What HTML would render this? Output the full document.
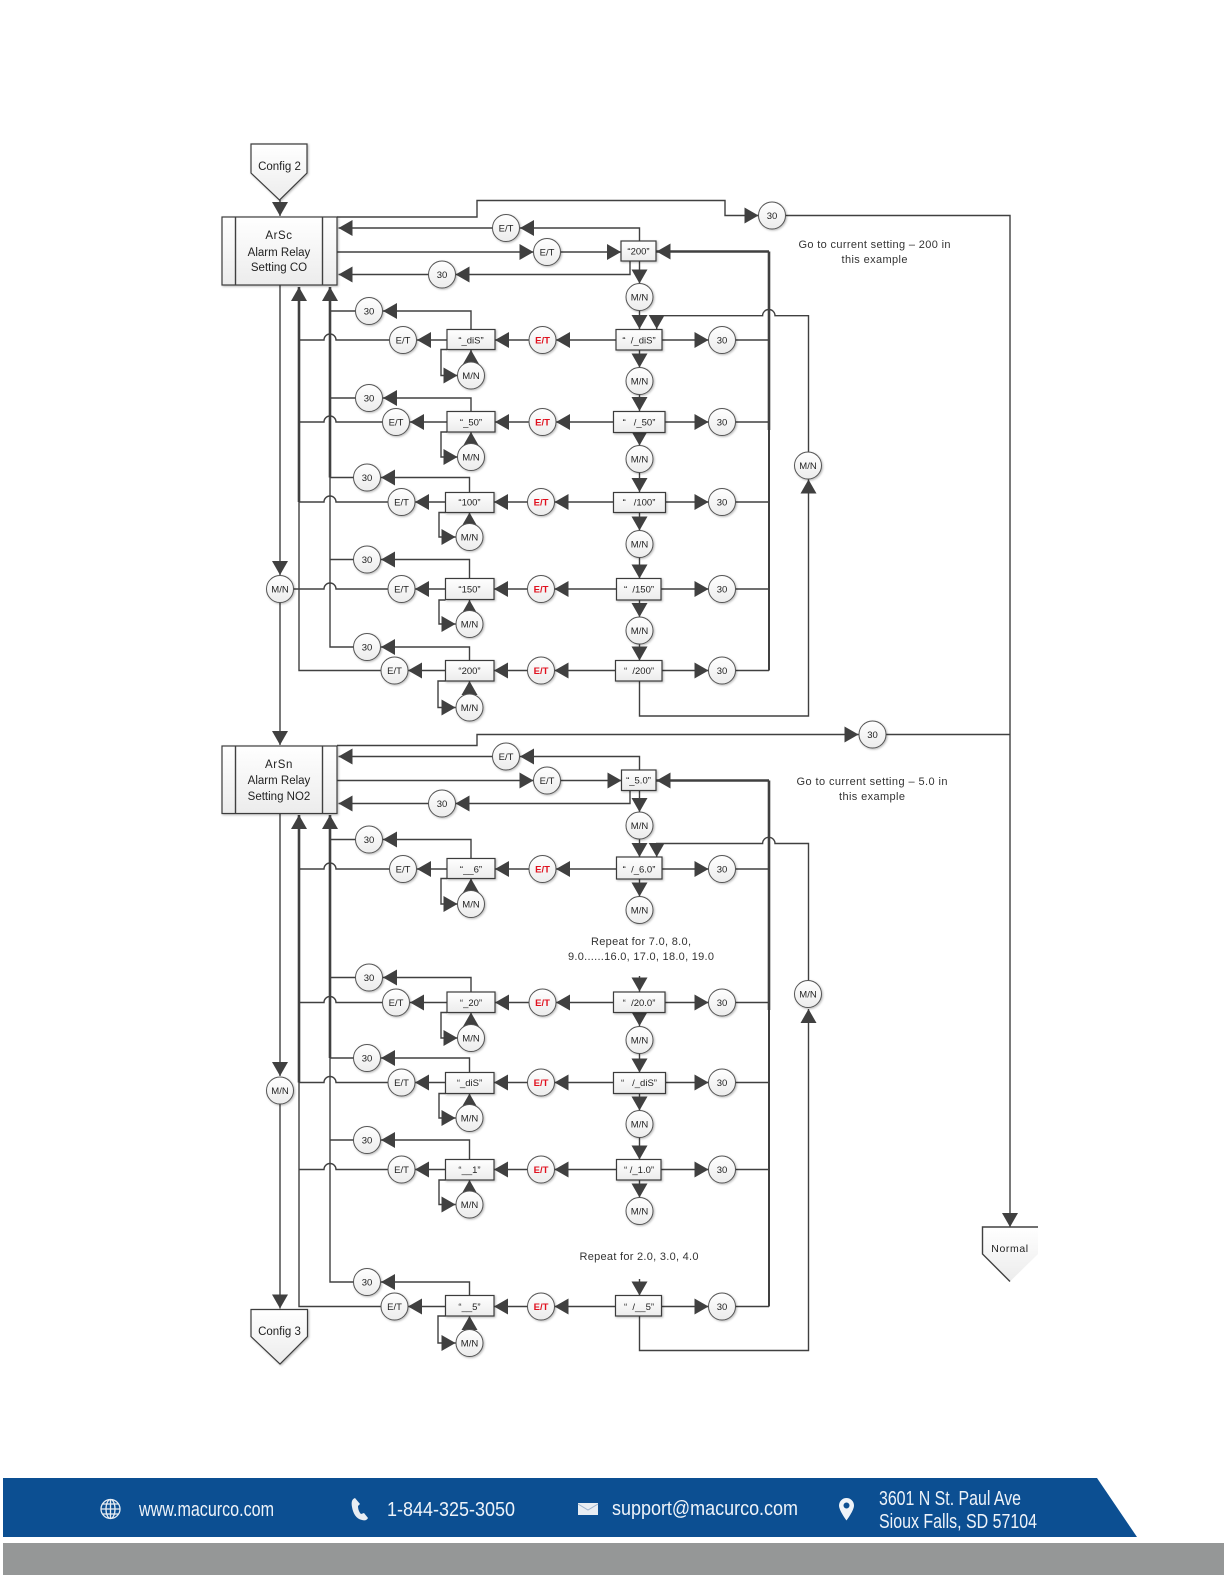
<!DOCTYPE html>
<html><head><meta charset="utf-8"><title>Alarm Relay Setting Diagram</title>
<style>
html,body{margin:0;padding:0;background:#fff}
svg{display:block;position:absolute;left:0;top:0}
.l path{fill:none;stroke:#404040;stroke-width:1.4;marker-end:url(#a)}
.n path{fill:none;stroke:#404040;stroke-width:1.4}
.t path{fill:none;stroke:#404040;stroke-width:2.6}
.th{fill:none;stroke:#404040;stroke-width:2.6;marker-end:url(#a)}
.m path{fill:none;stroke:#404040;stroke-width:2}
.nodes{filter:drop-shadow(1px 1.5px 1px rgba(0,0,0,.28))}
.nodes rect,.nodes polygon{fill:url(#g);stroke:#3c3c3c;stroke-width:1.2}
.c circle{fill:url(#g);stroke:#555;stroke-width:1}
text{font-family:"Liberation Sans",sans-serif;fill:#222;text-anchor:middle}
.s text{font-size:9.5px}
.r text{font-size:9.5px;font-weight:bold;fill:#e0101e}
.b text{font-size:9.5px}
.lb{font-size:11.5px}
.note{font-size:11px;fill:#333}
.f text{fill:#eef3f9;text-anchor:start;font-size:20px}
</style></head><body>
<svg width="1224" height="1584" viewBox="0 0 1224 1584" xmlns="http://www.w3.org/2000/svg">
<defs>
<marker id="a" markerUnits="userSpaceOnUse" markerWidth="15" markerHeight="17" refX="14" refY="8" orient="auto"><polygon points="0,0 14,8 0,16" fill="#404040"/></marker>
<linearGradient id="g" x1="0" y1="0" x2="0" y2="1"><stop offset="0" stop-color="#fff"/><stop offset="1" stop-color="#ececec"/></linearGradient>
</defs>

<!-- non-arrow lines -->
<g class="n">
<path d="M886 734.5H1010"/>
<path d="M735.5 340H769M735.5 422H769M735.5 502H769M735.5 589H769M735.5 670.5H769"/>
<path d="M735.5 869H769M735.5 1002.5H769M735.5 1082.5H769M735.5 1169.5H769M735.5 1306.5H769"/>
<path d="M389.5 340H336a6 6 0 0 0-12 0H299"/>
<path d="M382.5 422H336a6 6 0 0 0-12 0H299"/>
<path d="M388 502H336a6 6 0 0 0-12 0H299"/>
<path d="M388 589H336a6 6 0 0 0-12 0H293.5"/>
<path d="M381 670.5H299V480"/>
<path d="M353.5 647H330V470"/>
<path d="M355.5 311H330M355.5 398H330M353.5 477.5H330M353.5 559.5H330"/>
<path d="M389.5 869H336a6 6 0 0 0-12 0H299"/>
<path d="M382.5 1002.5H336a6 6 0 0 0-12 0H299"/>
<path d="M388 1082.5H336a6 6 0 0 0-12 0H299"/>
<path d="M388 1169.5H336a6 6 0 0 0-12 0H299"/>
<path d="M381 1306.5H299V1070"/>
<path d="M353.5 1282H330V1050"/>
<path d="M355.5 839.5H330M355.5 977.5H330M353.5 1058H330M353.5 1140H330"/>
</g>
<g class="m"><path d="M769 430V670.5M769 1010V1306.5"/></g>
<g class="t"><path d="M769 251.5V430M769 780.5V1010"/></g>
<path class="th" d="M299 502V287"/>
<path class="th" d="M330 477.5V287"/>
<path class="th" d="M299 1082.5V815"/>
<path class="th" d="M330 1058V815"/>
<path class="th" d="M769 251.5H656.5"/>
<path class="th" d="M769 780.5H656.5"/>

<!-- arrow lines -->
<g class="l">
<path d="M280 200V216"/>
<path d="M337 217H477V200.5H725V215.5H758.5"/>
<path d="M785.5 215.5H1010V1227"/>
<path d="M639.5 241V228H520"/>
<path d="M492.5 228H338.5"/>
<path d="M337 252H533.5"/>
<path d="M560.5 252H621"/>
<path d="M630 261V274.5H455.5"/>
<path d="M428.5 274.5H338.5"/>
<path d="M639.5 261V283.5"/>
<path d="M639.5 310.5V329"/>
<path d="M808.5 452V315.7H775a6.2 6.2 0 0 0-12.4 0H656.7V329"/>
<path d="M280 285V575"/>
<path d="M280 603V745"/>
<!-- row 1 -->
<path d="M616 340H556"/><path d="M528.5 340H495"/><path d="M662 340H708.5"/><path d="M447 340H417"/>
<path d="M471 329.5V311H383"/><path d="M471 362V350"/><path d="M447 349.5H441V375.5H457.5"/>
<path d="M639.5 350V367.5"/><path d="M639.5 394.5V411"/>
<!-- row 2 -->
<path d="M613.5 422H556"/><path d="M528.5 422H495"/><path d="M665 422H708.5"/><path d="M447 422H410"/>
<path d="M471 411.5V398H383"/><path d="M471 443.5V432"/><path d="M447 432H441V457H457.5"/>
<path d="M639.5 432.5V445.5"/><path d="M639.5 472.5V492"/>
<!-- row 3 -->
<path d="M613.5 502H554.5"/><path d="M527.5 502H494"/><path d="M665.5 502H708.5"/><path d="M445.5 502H415"/>
<path d="M469.5 492.5V477.5H381"/><path d="M469.5 523.5V512.5"/><path d="M445.5 512.5H439V537H455.5"/>
<path d="M639.5 512.5V530.5"/><path d="M639.5 557.5V578.5"/>
<!-- row 4 -->
<path d="M616.5 589H554.5"/><path d="M527.5 589H494"/><path d="M661 589H708.5"/><path d="M445.5 589H415"/>
<path d="M469.5 578.5V559.5H381"/><path d="M469.5 610.5V600"/><path d="M445.5 600H439V624H455.5"/>
<path d="M639.5 600V617"/><path d="M639.5 644V660.5"/>
<!-- row 5 -->
<path d="M615.5 670.5H554.5"/><path d="M527.5 670.5H494"/><path d="M662 670.5H708.5"/><path d="M445.5 670.5H408"/>
<path d="M469.5 660.5V647H381"/><path d="M469.5 694V681"/><path d="M445.5 681H438V707.5H455.5"/>
<path d="M639.5 681V716H808.5V479.5"/>

<!-- section 2 -->
<path d="M337 745.5H477V734.5H858.5"/>
<path d="M639.5 770V756.5H520"/>
<path d="M492.5 756.5H338.5"/>
<path d="M337 780.5H533.5"/>
<path d="M560.5 780.5H621.5"/>
<path d="M630 790V803.5H455.5"/>
<path d="M428.5 803.5H338.5"/>
<path d="M639.5 790.5V812"/>
<path d="M639.5 839V857"/>
<path d="M808.5 980.5V843.5H775a6.2 6.2 0 0 0-12.4 0H656.7V857"/>
<path d="M280 813.5V1076"/>
<path d="M280 1104V1308.5"/>
<!-- s1 -->
<path d="M616.5 869H556"/><path d="M529 869H495"/><path d="M662 869H708.5"/><path d="M447 869H417"/>
<path d="M471 858.5V839.5H383"/><path d="M471 890.5V878.5"/><path d="M447 878.5H441V904H457.5"/>
<path d="M639.5 879V896.5"/>
<!-- s2 -->
<path d="M639.5 976V991.5"/>
<path d="M613.5 1002.5H556"/><path d="M529 1002.5H495"/><path d="M665 1002.5H708.5"/><path d="M447 1002.5H410"/>
<path d="M471 992V977.5H383"/><path d="M471 1024.5V1012.5"/><path d="M447 1012.5H441V1038H457.5"/>
<path d="M639.5 1012.5V1026"/><path d="M639.5 1053.5V1072.5"/>
<!-- s3 -->
<path d="M613.5 1082.5H554.5"/><path d="M527.5 1082.5H494"/><path d="M665.5 1082.5H708.5"/><path d="M445.5 1082.5H415"/>
<path d="M469.5 1072.5V1058H381"/><path d="M469.5 1104.5V1093.5"/><path d="M445.5 1093.5H439V1118H455.5"/>
<path d="M639.5 1093.5V1110.5"/><path d="M639.5 1137.5V1159.5"/>
<!-- s4 -->
<path d="M616.5 1169.5H554.5"/><path d="M527.5 1169.5H494"/><path d="M661 1169.5H708.5"/><path d="M445.5 1169.5H415"/>
<path d="M469.5 1159.5V1140H381"/><path d="M469.5 1191V1180"/><path d="M445.5 1180H439V1204.5H455.5"/>
<path d="M639.5 1180V1197.5"/>
<!-- s5 -->
<path d="M639.5 1279V1295.5"/>
<path d="M615.5 1306.5H554.5"/><path d="M527.5 1306.5H494"/><path d="M661.5 1306.5H708.5"/><path d="M445.5 1306.5H408"/>
<path d="M469.5 1295.5V1282H381"/><path d="M469.5 1329.5V1316"/><path d="M445.5 1316H438V1343H455.5"/>
<path d="M639.5 1316V1350.5H808.5V1009"/>
</g>

<!-- shapes -->
<g class="nodes">
<polygon points="251,144 307,144 307,173 279.5,200 251,173"/>
<polygon points="251,1309.5 307.5,1309.5 307.5,1336.5 280,1364 251,1336.5"/>
<rect x="222" y="217" width="115" height="68"/>
<rect x="222" y="746" width="115" height="67.5"/>
<rect x="621" y="241" width="35" height="20"/>
<rect x="621.5" y="770" width="34.5" height="20.5"/>
<rect x="616" y="329.5" width="46" height="20.5"/>
<rect x="613.5" y="411.5" width="51.5" height="21"/>
<rect x="613.5" y="492.5" width="52" height="20"/>
<rect x="616.5" y="578.5" width="44.5" height="21.5"/>
<rect x="615.5" y="660.5" width="46.5" height="20.5"/>
<rect x="616.5" y="857" width="45.5" height="22"/>
<rect x="613.5" y="992" width="51.5" height="20.5"/>
<rect x="613.5" y="1072.5" width="52" height="21"/>
<rect x="616.5" y="1159.5" width="44.5" height="20.5"/>
<rect x="615.5" y="1295.5" width="46" height="20.5"/>
<rect x="447" y="329.5" width="48" height="20"/>
<rect x="447" y="411.5" width="48" height="20.5"/>
<rect x="445.5" y="492.5" width="48.5" height="20"/>
<rect x="445.5" y="578.5" width="48.5" height="21"/>
<rect x="445.5" y="660.5" width="48.5" height="20.5"/>
<rect x="447" y="858.5" width="48" height="20"/>
<rect x="447" y="992" width="48" height="20.5"/>
<rect x="445.5" y="1072.5" width="48.5" height="21"/>
<rect x="445.5" y="1159.5" width="48.5" height="20.5"/>
<rect x="445.5" y="1295.5" width="48.5" height="20.5"/>
</g>
<polygon points="982.5,1227 1038,1227 1038,1254 1010,1281.5 982.5,1254" fill="url(#g)"/>
<g class="n"><path d="M1038 1227H982.5V1254L1010 1281.5"/></g>
<g class="n"><path d="M235.5 217V285M322.5 217V285M235.5 746V813.5M322.5 746V813.5"/></g>

<!-- circles -->
<g class="nodes c">
<circle cx="772" cy="215.5" r="13.5"/><circle cx="506" cy="228" r="13.5"/><circle cx="547" cy="252" r="13.5"/><circle cx="442" cy="274.5" r="13.5"/>
<circle cx="639.5" cy="297" r="13.5"/><circle cx="639.5" cy="381" r="13.5"/><circle cx="639.5" cy="459" r="13.5"/><circle cx="639.5" cy="544" r="13.5"/><circle cx="639.5" cy="630.5" r="13.5"/>
<circle cx="722" cy="340" r="13.5"/><circle cx="722" cy="422" r="13.5"/><circle cx="722" cy="502" r="13.5"/><circle cx="722" cy="589" r="13.5"/><circle cx="722" cy="670.5" r="13.5"/>
<circle cx="542.5" cy="340" r="13.5"/><circle cx="542.5" cy="422" r="13.5"/><circle cx="541" cy="502" r="13.5"/><circle cx="541" cy="589" r="13.5"/><circle cx="541" cy="670.5" r="13.5"/>
<circle cx="403" cy="340" r="13.5"/><circle cx="396" cy="422" r="13.5"/><circle cx="401.5" cy="502" r="13.5"/><circle cx="401.5" cy="589" r="13.5"/><circle cx="394.5" cy="670.5" r="13.5"/>
<circle cx="369" cy="311" r="13.5"/><circle cx="369" cy="398" r="13.5"/><circle cx="367" cy="477.5" r="13.5"/><circle cx="367" cy="559.5" r="13.5"/><circle cx="367" cy="647" r="13.5"/>
<circle cx="471" cy="375.5" r="13.5"/><circle cx="471" cy="457" r="13.5"/><circle cx="469.5" cy="537" r="13.5"/><circle cx="469.5" cy="624" r="13.5"/><circle cx="469.5" cy="707.5" r="13.5"/>
<circle cx="280" cy="589" r="13.5"/><circle cx="808" cy="465.5" r="13.5"/>
<circle cx="872.5" cy="734.5" r="13.5"/><circle cx="506" cy="756.5" r="13.5"/><circle cx="547" cy="780.5" r="13.5"/><circle cx="442" cy="803.5" r="13.5"/>
<circle cx="639.5" cy="825.5" r="13.5"/><circle cx="639.5" cy="910" r="13.5"/><circle cx="639.5" cy="1040" r="13.5"/><circle cx="639.5" cy="1124" r="13.5"/><circle cx="639.5" cy="1211" r="13.5"/>
<circle cx="722" cy="869" r="13.5"/><circle cx="722" cy="1002.5" r="13.5"/><circle cx="722" cy="1082.5" r="13.5"/><circle cx="722" cy="1169.5" r="13.5"/><circle cx="722" cy="1306.5" r="13.5"/>
<circle cx="542.5" cy="869" r="13.5"/><circle cx="542.5" cy="1002.5" r="13.5"/><circle cx="541" cy="1082.5" r="13.5"/><circle cx="541" cy="1169.5" r="13.5"/><circle cx="541" cy="1306.5" r="13.5"/>
<circle cx="403" cy="869" r="13.5"/><circle cx="396" cy="1002.5" r="13.5"/><circle cx="401.5" cy="1082.5" r="13.5"/><circle cx="401.5" cy="1169.5" r="13.5"/><circle cx="394.5" cy="1306.5" r="13.5"/>
<circle cx="369" cy="839.5" r="13.5"/><circle cx="369" cy="977.5" r="13.5"/><circle cx="367" cy="1058" r="13.5"/><circle cx="367" cy="1140" r="13.5"/><circle cx="367" cy="1282" r="13.5"/>
<circle cx="471" cy="904" r="13.5"/><circle cx="471" cy="1038" r="13.5"/><circle cx="469.5" cy="1118" r="13.5"/><circle cx="469.5" cy="1204.5" r="13.5"/><circle cx="469.5" cy="1343" r="13.5"/>
<circle cx="280" cy="1090.5" r="13.5"/><circle cx="808" cy="994" r="13.5"/>
</g>

<!-- shape labels -->
<text class="lb" x="279.5" y="170">Config 2</text>
<text class="lb" x="279.5" y="1335">Config 3</text>
<text x="1010" y="1252" font-size="10.5" letter-spacing=".6">Normal</text>
<text class="lb" x="279" y="239" letter-spacing=".6">ArSc</text>
<text class="lb" x="279" y="256">Alarm Relay</text>
<text class="lb" x="279" y="271">Setting CO</text>
<text class="lb" x="279" y="768" letter-spacing=".6">ArSn</text>
<text class="lb" x="279" y="784">Alarm Relay</text>
<text class="lb" x="279" y="800">Setting NO2</text>

<!-- notes -->
<text class="note" x="874.5" y="248" textLength="152">Go to current setting – 200 in</text>
<text class="note" x="874.5" y="263" textLength="66">this example</text>
<text class="note" x="872" y="785" textLength="151">Go to current setting – 5.0 in</text>
<text class="note" x="872" y="800" textLength="66">this example</text>
<text class="note" x="641" y="945" textLength="100">Repeat for 7.0, 8.0,</text>
<text class="note" x="641" y="960" textLength="146">9.0......16.0, 17.0, 18.0, 19.0</text>
<text class="note" x="639" y="1260" textLength="119">Repeat for 2.0, 3.0, 4.0</text>

<!-- box labels -->
<g class="b">
<text x="638.5" y="254.5">“200”</text>
<text x="639" y="343.5">“&#160;&#160;/_diS”</text>
<text x="639" y="425.5">“&#160;&#160;&#160;/_50”</text>
<text x="639" y="505.5">“&#160;&#160;&#160;/100”</text>
<text x="639" y="592.5">“&#160;&#160;/150”</text>
<text x="639" y="674">“&#160;&#160;/200”</text>
<text x="638.5" y="783.5">“_5.0”</text>
<text x="639" y="872.5">“&#160;&#160;/_6.0”</text>
<text x="639" y="1006">“&#160;&#160;/20.0”</text>
<text x="639" y="1086">“&#160;&#160;&#160;/_diS”</text>
<text x="639" y="1173">“ /_1.0”</text>
<text x="639" y="1310">“&#160;&#160;/__5”</text>
<text x="471" y="343.5">“_diS”</text>
<text x="471" y="425.5">“_50”</text>
<text x="469.5" y="505.5">“100”</text>
<text x="469.5" y="592.5">“150”</text>
<text x="469.5" y="674">“200”</text>
<text x="471" y="872.5">“__6”</text>
<text x="471" y="1006">“_20”</text>
<text x="469.5" y="1086">“_diS”</text>
<text x="469.5" y="1173">“__1”</text>
<text x="469.5" y="1310">“__5”</text>
</g>

<!-- circle labels -->
<g class="s">
<text x="772" y="219">30</text><text x="506" y="231.5">E/T</text><text x="547" y="255.5">E/T</text><text x="442" y="278">30</text>
<text x="639.5" y="300.5">M/N</text><text x="639.5" y="384.5">M/N</text><text x="639.5" y="462.5">M/N</text><text x="639.5" y="547.5">M/N</text><text x="639.5" y="634">M/N</text>
<text x="722" y="343.5">30</text><text x="722" y="425.5">30</text><text x="722" y="505.5">30</text><text x="722" y="592.5">30</text><text x="722" y="674">30</text>
<text x="403" y="343.5">E/T</text><text x="396" y="425.5">E/T</text><text x="401.5" y="505.5">E/T</text><text x="401.5" y="592.5">E/T</text><text x="394.5" y="674">E/T</text>
<text x="369" y="314.5">30</text><text x="369" y="401.5">30</text><text x="367" y="481">30</text><text x="367" y="563">30</text><text x="367" y="650.5">30</text>
<text x="471" y="379">M/N</text><text x="471" y="460.5">M/N</text><text x="469.5" y="540.5">M/N</text><text x="469.5" y="627.5">M/N</text><text x="469.5" y="711">M/N</text>
<text x="280" y="592.5">M/N</text><text x="808" y="469">M/N</text>
<text x="872.5" y="738">30</text><text x="506" y="760">E/T</text><text x="547" y="784">E/T</text><text x="442" y="807">30</text>
<text x="639.5" y="829">M/N</text><text x="639.5" y="913.5">M/N</text><text x="639.5" y="1043.5">M/N</text><text x="639.5" y="1127.5">M/N</text><text x="639.5" y="1214.5">M/N</text>
<text x="722" y="872.5">30</text><text x="722" y="1006">30</text><text x="722" y="1086">30</text><text x="722" y="1173">30</text><text x="722" y="1310">30</text>
<text x="403" y="872.5">E/T</text><text x="396" y="1006">E/T</text><text x="401.5" y="1086">E/T</text><text x="401.5" y="1173">E/T</text><text x="394.5" y="1310">E/T</text>
<text x="369" y="843">30</text><text x="369" y="981">30</text><text x="367" y="1061.5">30</text><text x="367" y="1143.5">30</text><text x="367" y="1285.5">30</text>
<text x="471" y="907.5">M/N</text><text x="471" y="1041.5">M/N</text><text x="469.5" y="1121.5">M/N</text><text x="469.5" y="1208">M/N</text><text x="469.5" y="1346.5">M/N</text>
<text x="280" y="1094">M/N</text><text x="808" y="997.5">M/N</text>
</g>
<g class="r">
<text x="542.5" y="343.5">E/T</text><text x="542.5" y="425.5">E/T</text><text x="541" y="505.5">E/T</text><text x="541" y="592.5">E/T</text><text x="541" y="674">E/T</text>
<text x="542.5" y="872.5">E/T</text><text x="542.5" y="1006">E/T</text><text x="541" y="1086">E/T</text><text x="541" y="1173">E/T</text><text x="541" y="1310">E/T</text>
</g>

<!-- footer -->
<polygon points="3,1478 1097,1478 1137,1537 3,1537" fill="#0c4f92"/>
<rect x="3" y="1543" width="1221" height="32" fill="#959797"/>
<g class="f">
<text x="139" y="1516" textLength="135" lengthAdjust="spacingAndGlyphs">www.macurco.com</text>
<text x="387" y="1516" textLength="128" lengthAdjust="spacingAndGlyphs" font-size="19">1-844-325-3050</text>
<text x="612" y="1515" textLength="186" lengthAdjust="spacingAndGlyphs" font-size="19">support@macurco.com</text>
<text x="879" y="1505" textLength="142" lengthAdjust="spacingAndGlyphs">3601 N St. Paul Ave</text>
<text x="879" y="1528" textLength="158" lengthAdjust="spacingAndGlyphs">Sioux Falls, SD 57104</text>
</g>
<!-- footer icons -->
<g fill="none" stroke="#e8edf3" stroke-width="1.3">
<circle cx="110.5" cy="1509" r="9.5"/>
<ellipse cx="110.5" cy="1509" rx="4.5" ry="9.5"/>
<path d="M101 1509H120M102.5 1504H118.5M102.5 1514H118.5M110.5 1499.5V1518.5"/>
</g>
<path d="M355 1498c-3 1-4 4-3 9 1 6 4 12 10 13 3 1 5 0 6-2l-4-5-3 1c-2-2-3-5-3-8l2-2z" fill="#e8edf3"/>
<rect x="578" y="1503" width="20" height="12" fill="#e8edf3"/>
<path d="M578 1504l10 6 10-6" fill="none" stroke="#9db4cf" stroke-width="1"/>
<path d="M846.5 1498a7.5 7.5 0 0 0-7.5 7.5c0 5 7.5 15 7.5 15s7.5-10 7.5-15a7.5 7.5 0 0 0-7.5-7.5zm0 4.5a3 3 0 1 1 0 6 3 3 0 0 1 0-6z" fill="#eef3f9" fill-rule="evenodd"/>
</svg>
</body></html>
